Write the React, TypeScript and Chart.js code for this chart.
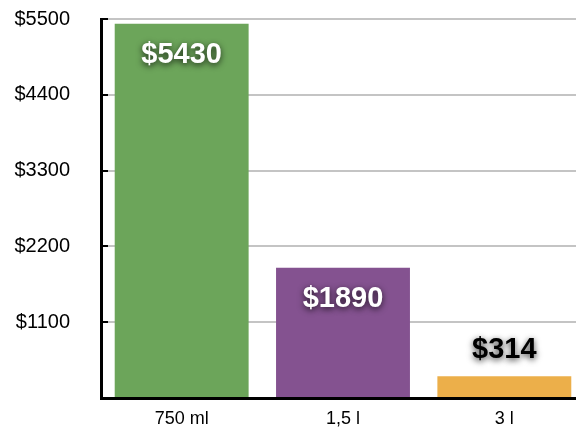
import React, { useEffect, useRef } from "react";
import { Chart, registerables } from "chart.js";

Chart.register(...registerables);

const categories = ["750 ml", "1,5 l", "3 l"];
const values = [5430, 1890, 314];
const barColors = ["#6ca55a", "#845290", "#ecaf4a"];
const yTicks = [0, 1100, 2200, 3300, 4400, 5500];

const FONT = "'Liberation Sans', Arial, Helvetica, sans-serif";

const barLabelPlugin = {
  id: "barLabels",
  afterDatasetsDraw(chart: any) {
    const ctx = chart.ctx;
    const meta = chart.getDatasetMeta(0);
    ctx.save();
    ctx.font = `bold 29px ${FONT}`;
    ctx.textAlign = "center";
    ctx.textBaseline = "middle";
    meta.data.forEach((bar: any, i: number) => {
      const v = values[i];
      const text = "$" + v;
      const inside = v > 1000;
      const y = inside ? bar.y + 31 : bar.y - 26;
      ctx.shadowColor = "rgba(0,0,0,0.75)";
      ctx.shadowBlur = 6;
      ctx.shadowOffsetX = 0;
      ctx.shadowOffsetY = 2;
      ctx.fillStyle = inside ? "#ffffff" : "#000000";
      ctx.fillText(text, bar.x, y);
    });
    ctx.restore();
  },
};

const tickMarkPlugin = {
  id: "innerTicks",
  afterDraw(chart: any) {
    const ctx = chart.ctx;
    const ys = chart.scales.y;
    const left = chart.chartArea.left;
    ctx.save();
    ctx.strokeStyle = "#000";
    ctx.lineWidth = 2;
    yTicks.forEach((t) => {
      if (t === 0) return;
      const py = Math.round(ys.getPixelForValue(t));
      ctx.beginPath();
      ctx.moveTo(left, py);
      ctx.lineTo(left + 7, py);
      ctx.stroke();
    });
    ctx.restore();
  },
};

export default function App() {
  const ref = useRef<HTMLCanvasElement | null>(null);
  useEffect(() => {
    document.body.style.margin = "0";
    const canvas = ref.current!;
    const chart = new Chart(canvas, {
      type: "bar",
      data: {
        labels: categories,
        datasets: [
          {
            data: values,
            backgroundColor: barColors,
            borderWidth: 0,
            categoryPercentage: 1,
            barPercentage: 0.83,
          },
        ],
      },
      options: {
        responsive: false,
        animation: false,
        devicePixelRatio: 1,
        layout: { padding: { top: 19, right: 0, left: 0, bottom: 0 } },
        plugins: {
          legend: { display: false },
          tooltip: { enabled: false },
        },
        scales: {
          x: {
            grid: { display: false },
            border: { display: true, color: "#000", width: 3 },
            ticks: {
              color: "#000",
              font: { family: FONT, size: 18 },
              padding: 2,
            },
            afterFit(scale: any) {
              scale.height = 32;
              scale.paddingLeft = 0;
              scale.paddingRight = 0;
            },
          },
          y: {
            min: 0,
            max: 5500,
            afterBuildTicks(scale: any) {
              scale.ticks = yTicks.map((v) => ({ value: v }));
            },
            grid: { color: "#c4c4c4", lineWidth: 2, drawTicks: false },
            border: { display: true, color: "#000", width: 3 },
            ticks: {
              color: "#000",
              font: { family: FONT, size: 20 },
              padding: 31,
              callback: (v: any) => (v === 0 ? "" : "$" + v),
            },
            afterFit(scale: any) {
              scale.width = 101;
              scale.paddingTop = 0;
              scale.paddingBottom = 0;
            },
          },
        },
      },
      plugins: [barLabelPlugin, tickMarkPlugin],
    });
    return () => chart.destroy();
  }, []);
  return (
    <div style={{ width: 576, height: 430, overflow: "hidden" }}>
      <canvas ref={ref} width={585} height={430} style={{ display: "block" }} />
    </div>
  );
}
